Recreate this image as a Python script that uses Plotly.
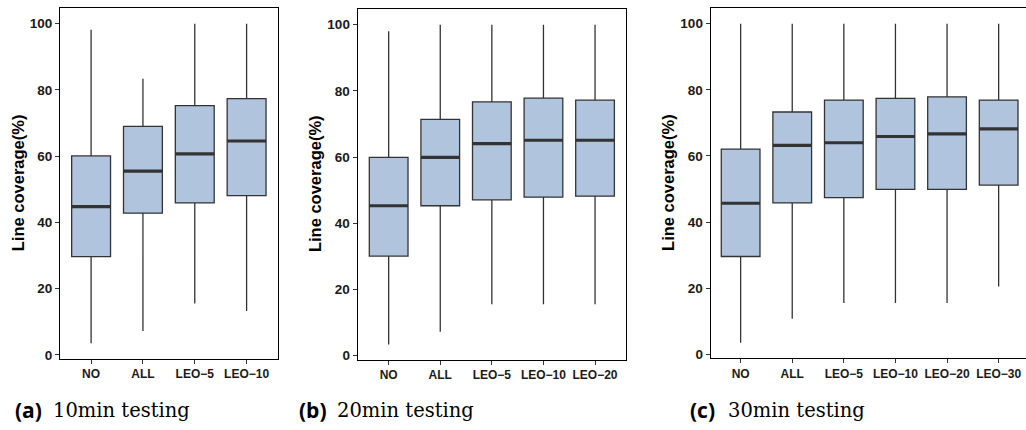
import plotly.graph_objects as go

# ---- data ----
cats_a = ["NO", "ALL", "LEO−5", "LEO−10"]
low_a = [3.5, 7.2, 15.5, 13.3]
q1_a = [29.7, 42.8, 45.9, 48.1]
med_a = [44.8, 55.5, 60.7, 64.6]
q3_a = [60.1, 69.0, 75.3, 77.4]
high_a = [98.2, 83.4, 100, 100]

cats_b = ["NO", "ALL", "LEO−5", "LEO−10", "LEO−20"]
low_b = [3.4, 7.2, 15.5, 15.5, 15.5]
q1_b = [30.1, 45.3, 47.1, 47.9, 48.2]
med_b = [45.3, 59.9, 64.1, 65.1, 65.1]
q3_b = [59.9, 71.4, 76.7, 77.8, 77.2]
high_b = [98.0, 100, 100, 100, 100]

cats_c = ["NO", "ALL", "LEO−5", "LEO−10", "LEO−20", "LEO−30"]
low_c = [3.5, 10.8, 15.5, 15.5, 15.5, 20.5]
q1_c = [29.6, 45.8, 47.4, 49.9, 49.9, 51.2]
med_c = [45.7, 63.2, 64.0, 65.9, 66.7, 68.2]
q3_c = [62.1, 73.3, 76.9, 77.4, 77.9, 76.9]
high_c = [100, 100, 100, 100, 100, 100]

y_ticks = [0, 20, 40, 60, 80, 100]
y_title = "Line coverage(%)"
captions = [("(a)", "10min testing"), ("(b)", "20min testing"), ("(c)", "30min testing")]

# ---- layout geometry (pixels) ----
W, H = 1026, 430
panels = [
    dict(cats=cats_a, low=low_a, q1=q1_a, med=med_a, q3=q3_a, high=high_a,
         x0=60, x1=277.7, ytop=7.6, ybot=362.3, xr=[-0.6, 3.6], mirror_y=True,
         ytitle_x=18, cap_x=13),
    dict(cats=cats_b, low=low_b, q1=q1_b, med=med_b, q3=q3_b, high=high_b,
         x0=357.7, x1=626, ytop=8.6, ybot=363.0, xr=[-0.6, 4.6], mirror_y=True,
         ytitle_x=315, cap_x=297),
    dict(cats=cats_c, low=low_c, q1=q1_c, med=med_c, q3=q3_c, high=high_c,
         x0=710.7, x1=1026, ytop=7.6, ybot=361.7, xr=[-0.58, 5.53], mirror_y=False,
         ytitle_x=668, cap_x=688),
]
y_range = [-1.2, 104.9]

FILL = "#B0C4DE"
LINE = "#333333"
BOXW = 0.75
SANS = "Liberation Sans, Arial, sans-serif"

fig = go.Figure()
annotations = []
for i, p in enumerate(panels):
    k = "" if i == 0 else str(i + 1)
    xa, ya = "x" + k, "y" + k
    pos = list(range(len(p["cats"])))
    fig.add_trace(go.Box(
        x=pos, q1=p["q1"], median=p["med"], q3=p["q3"],
        lowerfence=p["low"], upperfence=p["high"],
        width=BOXW, whiskerwidth=0, fillcolor=FILL,
        line=dict(color=LINE, width=1.3), boxpoints=False,
        xaxis=xa, yaxis=ya, showlegend=False, hoverinfo="skip",
    ))
    # thick median lines
    mx, my = [], []
    for j, m in enumerate(p["med"]):
        mx += [j - BOXW / 2, j + BOXW / 2, None]
        my += [m, m, None]
    fig.add_trace(go.Scatter(x=mx, y=my, mode="lines",
                             line=dict(color=LINE, width=3.2),
                             xaxis=xa, yaxis=ya, showlegend=False, hoverinfo="skip"))
    axis_common = dict(showgrid=False, zeroline=False, showline=True,
                       linecolor="black", linewidth=1.2,
                       ticks="outside", ticklen=4, tickcolor="#333333", tickwidth=1.1)
    fig.update_layout(**{
        ("xaxis" + k): dict(domain=[p["x0"] / W, p["x1"] / W], anchor=ya,
                            range=p["xr"], tickvals=pos,
                            ticktext=["<b>" + c + "</b>" for c in p["cats"]],
                            mirror=True,
                            tickfont=dict(family=SANS, size=12, color="#1a1a1a"),
                            **axis_common),
        ("yaxis" + k): dict(domain=[1 - p["ybot"] / H, 1 - p["ytop"] / H], anchor=xa,
                            range=y_range, tickvals=y_ticks,
                            ticktext=["<b>%d</b>" % v for v in y_ticks],
                            mirror=p["mirror_y"],
                            tickfont=dict(family=SANS, size=13.5, color="#1a1a1a"),
                            **axis_common),
    })
    annotations.append(dict(
        text="<b>" + y_title + "</b>", textangle=-90, xref="paper", yref="paper",
        x=p["ytitle_x"] / W, y=1 - ((p["ytop"] + p["ybot"]) / 2) / H,
        xanchor="center", yanchor="middle", showarrow=False,
        font=dict(family=SANS, size=16.5, color="black")))
    lab, txt = captions[i]
    annotations.append(dict(
        text="<b>" + lab + "</b>", xref="paper", yref="paper",
        x=p["cap_x"] / W, y=1 - 414 / H, xanchor="left", yanchor="middle",
        showarrow=False, font=dict(family="Open Sans", size=21, color="black")))
    annotations.append(dict(
        text=txt, xref="paper", yref="paper",
        x=(p["cap_x"] + 38) / W, y=1 - 414 / H, xanchor="left", yanchor="middle",
        showarrow=False, font=dict(family="DejaVu Serif", size=19.5, color="black")))

fig.update_layout(width=W, height=H, margin=dict(l=0, r=0, t=0, b=0),
                  plot_bgcolor="white", paper_bgcolor="white",
                  annotations=annotations, showlegend=False)

fig.write_html("out.html", config={"displayModeBar": False},
               post_script="document.body.style.margin='0';document.body.style.overflow='hidden';")
